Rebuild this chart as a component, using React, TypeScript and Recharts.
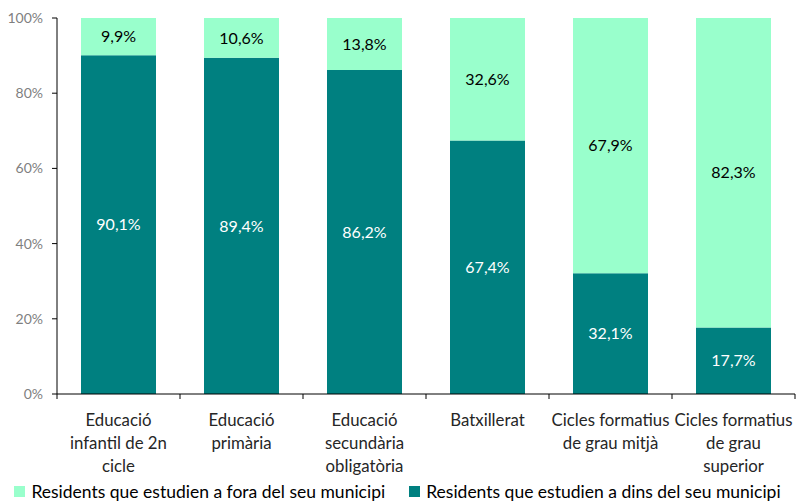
import { Bar, BarChart, Legend, LabelList, Text, XAxis, YAxis } from "recharts";

const categories = [
  "Educació\ninfantil de 2n\ncicle",
  "Educació\nprimària",
  "Educació\nsecundària\nobligatòria",
  "Batxillerat",
  "Cicles formatius\nde grau mitjà",
  "Cicles formatius\nde grau\nsuperior",
];
const dins = [90.1, 89.4, 86.2, 67.4, 32.1, 17.7];
const fora = [9.9, 10.6, 13.8, 32.6, 67.9, 82.3];
const yTicks = [0, 20, 40, 60, 80, 100];

const DINS_NAME = "Residents que estudien a dins del seu municipi";
const FORA_NAME = "Residents que estudien a fora del seu municipi";

const data = categories.map((label, i) => ({ label, dins: dins[i], fora: fora[i] }));

const FONT = "Lato, 'Open Sans', sans-serif";
const pct = (v: unknown) => `${Number(v).toFixed(1).replace(".", ",")}%`;

function CategoryTick(props: any) {
  const { x, y, payload, index } = props;
  const lines = String(payload.value).split("\n");
  const half = 61.5;
  return (
    <g>
      <line x1={x - half} x2={x - half} y1={y - 8} y2={y - 3} stroke="#000" />
      {index === categories.length - 1 && (
        <line x1={x + half} x2={x + half} y1={y - 8} y2={y - 3} stroke="#000" />
      )}
      {lines.map((line, i) => (
        <Text
          key={i}
          x={x}
          y={y + 18 + i * 23}
          textAnchor="middle"
          verticalAnchor="middle"
          fontSize={16.8}
          fill="#262626"
          fontFamily={FONT}
        >
          {line}
        </Text>
      ))}
    </g>
  );
}

function LegendContent() {
  const items = [
    { name: FORA_NAME, color: "#99FFCC" },
    { name: DINS_NAME, color: "#008080" },
  ];
  return (
    <div
      style={{
        display: "flex",
        justifyContent: "center",
        gap: 24,
        paddingTop: 8,
        fontFamily: FONT,
        fontSize: 17.5,
        color: "#000",
      }}
    >
      {items.map((it) => (
        <div key={it.name} style={{ display: "flex", alignItems: "center" }}>
          <span style={{ display: "inline-block", width: 11, height: 11, background: it.color, marginRight: 6 }} />
          <span>{it.name}</span>
        </div>
      ))}
    </div>
  );
}

export default function App() {
  return (
    <div style={{ position: "absolute", left: 0, top: 0, width: 796, height: 503, background: "#fff" }}>
      <BarChart width={796} height={503} data={data} margin={{ top: 18, right: 1, left: 0, bottom: 0 }}>
        <XAxis
          dataKey="label"
          interval={0}
          tickLine={false}
          axisLine={{ stroke: "#000" }}
          height={79}
          tick={<CategoryTick />}
        />
        <YAxis
          width={57}
          domain={[0, 100]}
          ticks={yTicks}
          tickFormatter={(v) => `${v}%`}
          axisLine={{ stroke: "#000" }}
          tickLine={{ stroke: "#000" }}
          tickSize={5}
          tickMargin={9}
          tick={{ fill: "#7f7f7f", fontSize: 14, fontFamily: FONT }}
        />
        <Legend
          verticalAlign="bottom"
          wrapperStyle={{ height: 30, bottom: 0 }}
          content={<LegendContent />}
        />
        <Bar dataKey="dins" stackId="a" fill="#008080" barSize={75} name={DINS_NAME} isAnimationActive={false}>
          <LabelList dataKey="dins" position="center" formatter={pct} fill="#fff" fontSize={16} fontFamily={FONT} />
        </Bar>
        <Bar dataKey="fora" stackId="a" fill="#99FFCC" barSize={75} name={FORA_NAME} isAnimationActive={false}>
          <LabelList dataKey="fora" position="center" formatter={pct} fill="#000" fontSize={16} fontFamily={FONT} />
        </Bar>
      </BarChart>
    </div>
  );
}
